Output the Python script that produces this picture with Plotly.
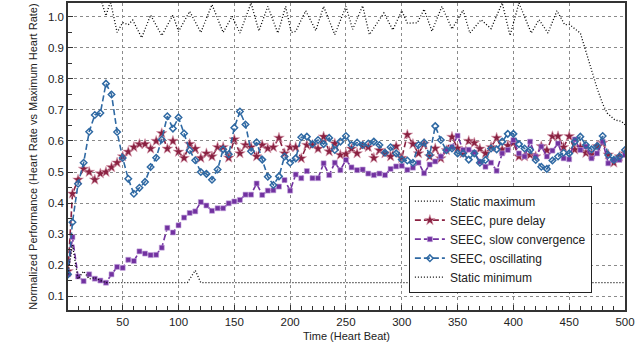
import plotly.graph_objects as go

# ---------------- data ----------------
beats = [1] + list(range(5, 501, 5))

pure_delay = [0.18,0.43,0.475,0.51,0.50,0.475,0.495,0.50,0.515,0.53,
 0.55,0.565,0.58,0.59,0.59,0.575,0.60,0.625,0.575,0.60,
 0.565,0.545,0.59,0.575,0.545,0.56,0.55,0.58,0.58,0.546,
 0.605,0.56,0.587,0.58,0.55,0.587,0.576,0.58,0.61,0.56,
 0.58,0.58,0.544,0.587,0.587,0.575,0.614,0.566,0.592,0.555,
 0.558,0.575,0.56,0.585,0.58,0.545,0.57,0.56,0.55,0.583,
 0.545,0.62,0.59,0.56,0.59,0.55,0.576,0.544,0.57,0.613,
 0.577,0.56,0.60,0.594,0.575,0.56,0.58,0.61,0.572,0.585,
 0.594,0.55,0.55,0.555,0.55,0.583,0.57,0.615,0.615,0.58,
 0.615,0.572,0.58,0.561,0.556,0.583,0.594,0.556,0.53,0.55,
 0.56]

slow_convergence = [0.17,0.29,0.163,0.148,0.17,0.156,0.15,0.143,0.17,0.194,
 0.191,0.217,0.213,0.244,0.237,0.232,0.233,0.256,0.32,0.305,
 0.328,0.353,0.368,0.373,0.403,0.392,0.375,0.383,0.383,0.399,
 0.405,0.41,0.427,0.427,0.463,0.426,0.44,0.441,0.453,0.474,
 0.44,0.492,0.48,0.503,0.48,0.48,0.528,0.49,0.53,0.506,
 0.539,0.515,0.506,0.508,0.495,0.49,0.495,0.49,0.51,0.518,
 0.52,0.507,0.514,0.53,0.496,0.524,0.534,0.55,0.572,0.581,
 0.617,0.571,0.572,0.563,0.533,0.517,0.53,0.504,0.56,0.571,
 0.603,0.56,0.55,0.598,0.55,0.582,0.55,0.569,0.592,0.544,
 0.541,0.605,0.571,0.582,0.544,0.56,0.598,0.528,0.539,0.539,
 0.555]

oscillating = [0.17,0.338,0.462,0.53,0.63,0.684,0.69,0.785,0.75,0.629,
 0.545,0.478,0.43,0.449,0.468,0.516,0.546,0.605,0.68,0.64,
 0.676,0.624,0.57,0.538,0.50,0.494,0.475,0.508,0.573,0.557,
 0.643,0.695,0.653,0.567,0.596,0.54,0.485,0.458,0.486,0.55,
 0.53,0.544,0.612,0.614,0.59,0.603,0.59,0.61,0.571,0.598,
 0.616,0.587,0.595,0.587,0.592,0.598,0.587,0.562,0.58,0.56,
 0.54,0.537,0.53,0.587,0.595,0.555,0.648,0.603,0.57,0.576,
 0.56,0.56,0.54,0.56,0.53,0.539,0.576,0.573,0.598,0.623,
 0.623,0.59,0.576,0.571,0.539,0.517,0.51,0.537,0.55,0.562,
 0.56,0.598,0.614,0.587,0.573,0.584,0.616,0.555,0.539,0.55,
 0.571]

static_max_x = [1, 20, 29, 31, 35, 39, 45, 50, 55, 59, 67, 75, 85, 95, 100, 110, 120, 130,
                140, 148, 155, 165, 172, 180, 189, 196, 201, 205, 214, 223, 230, 240, 250,
                256, 265, 271, 284, 292, 300, 305, 314, 320, 327, 336, 345, 355, 361, 371,
                380, 390, 397, 405, 416, 423, 431, 439, 446, 450, 460, 464, 470, 475, 480,
                484, 491, 497, 500]
static_max_y = [1.10, 1.10, 1.06, 1.05, 1.004, 1.05, 0.95, 0.982, 0.975, 0.99, 0.933, 1.006,
                0.94, 1.006, 0.953, 1.018, 0.95, 1.04, 0.95, 1.002, 0.948, 1.045, 0.955,
                1.034, 0.948, 1.034, 0.95, 0.954, 1.02, 0.956, 1.034, 0.943, 1.034, 0.96,
                1.036, 0.943, 1.013, 0.958, 1.02, 0.98, 0.981, 1.025, 0.954, 1.034, 0.961,
                1.022, 0.948, 0.991, 0.962, 1.045, 0.94, 1.045, 0.948, 0.991, 0.948, 1.02,
                0.975, 0.976, 0.948, 0.90, 0.83, 0.77, 0.72, 0.69, 0.668, 0.663, 0.652]

static_min_x = [1, 5, 10, 15, 20, 25, 30, 35, 108, 115, 120, 500]
static_min_y = [0.17, 0.265, 0.155, 0.18, 0.155, 0.16, 0.15, 0.143, 0.143, 0.183, 0.143, 0.143]

x_ticks = [50, 100, 150, 200, 250, 300, 350, 400, 450, 500]
y_ticks = [0.1, 0.2, 0.3, 0.4, 0.5, 0.6, 0.7, 0.8, 0.9, 1.0]

RED = "#8a2141"
PURPLE = "#7232a0"
BLUE = "#2f69a3"
DOTS = "1px,2px"

fig = go.Figure()
fig.add_trace(go.Scatter(x=static_max_x, y=static_max_y, mode="lines", name="Static maximum",
                         line=dict(color="black", width=1.3, dash=DOTS)))
fig.add_trace(go.Scatter(x=beats, y=pure_delay, mode="lines+markers", name="SEEC, pure delay",
                         line=dict(color=RED, width=1.6, dash="6px,3px"),
                         marker=dict(symbol="star", size=8, color=RED,
                                     line=dict(color="#d9a0b2", width=0.6))))
fig.add_trace(go.Scatter(x=beats, y=slow_convergence, mode="lines+markers", name="SEEC, slow convergence",
                         line=dict(color=PURPLE, width=1.6, dash="6px,3px"),
                         marker=dict(symbol="square", size=5, color=PURPLE,
                                     line=dict(color="#c2a2dc", width=0.6))))
fig.add_trace(go.Scatter(x=beats, y=oscillating, mode="lines+markers", name="SEEC, oscillating",
                         line=dict(color=BLUE, width=1.6, dash="6px,3px"),
                         marker=dict(symbol="diamond-open", size=5, color=BLUE,
                                     line=dict(color=BLUE, width=1.5))))
fig.add_trace(go.Scatter(x=static_min_x, y=static_min_y, mode="lines", name="Static minimum",
                         line=dict(color="black", width=1.3, dash=DOTS)))

axis_common = dict(showline=True, linecolor="#333", linewidth=1.5, mirror=True,
                   showgrid=True, gridcolor="#8a8a8a", griddash="dot", gridwidth=1,
                   ticks="inside", ticklen=5, tickcolor="#333", tickwidth=1,
                   zeroline=False, automargin=False,
                   tickfont=dict(family="Liberation Sans, Arial, sans-serif", size=11.5, color="#222"))

fig.update_layout(
    width=635, height=353,
    margin=dict(l=68, r=10, t=3, b=43, autoexpand=False),
    paper_bgcolor="white", plot_bgcolor="white",
    font=dict(family="Liberation Sans, Arial, sans-serif", color="#222"),
    showlegend=True,
    legend=dict(x=0.612, y=0.405, xanchor="left", yanchor="top",
                bgcolor="white", bordercolor="#222", borderwidth=1,
                font=dict(size=12, color="#222"), tracegroupgap=0,
                itemwidth=30),
    xaxis=dict(range=[1, 500], tickvals=x_ticks, ticktext=[str(v) for v in x_ticks],
               ticklabeloverflow="allow",
               minor=dict(dtick=10, tick0=0, ticks="inside", ticklen=4, tickcolor="#333", showgrid=False),
               title=dict(text="Time (Heart Beat)", font=dict(size=11), standoff=6),
               **axis_common),
    yaxis=dict(range=[0.055, 1.045], tickvals=y_ticks, ticktext=[f"{v:.1f}" for v in y_ticks],
               minor=dict(dtick=0.05, tick0=0, ticks="inside", ticklen=4, tickcolor="#333", showgrid=False),
               title=dict(text="Normalized Performance (Heart Rate vs Maximum Heart Rate)",
                          font=dict(size=11), standoff=8),
               **axis_common),
)

fig.write_html("out.html", config={"displayModeBar": False},
               post_script="document.body.style.margin='0';document.body.style.overflow='hidden';")
